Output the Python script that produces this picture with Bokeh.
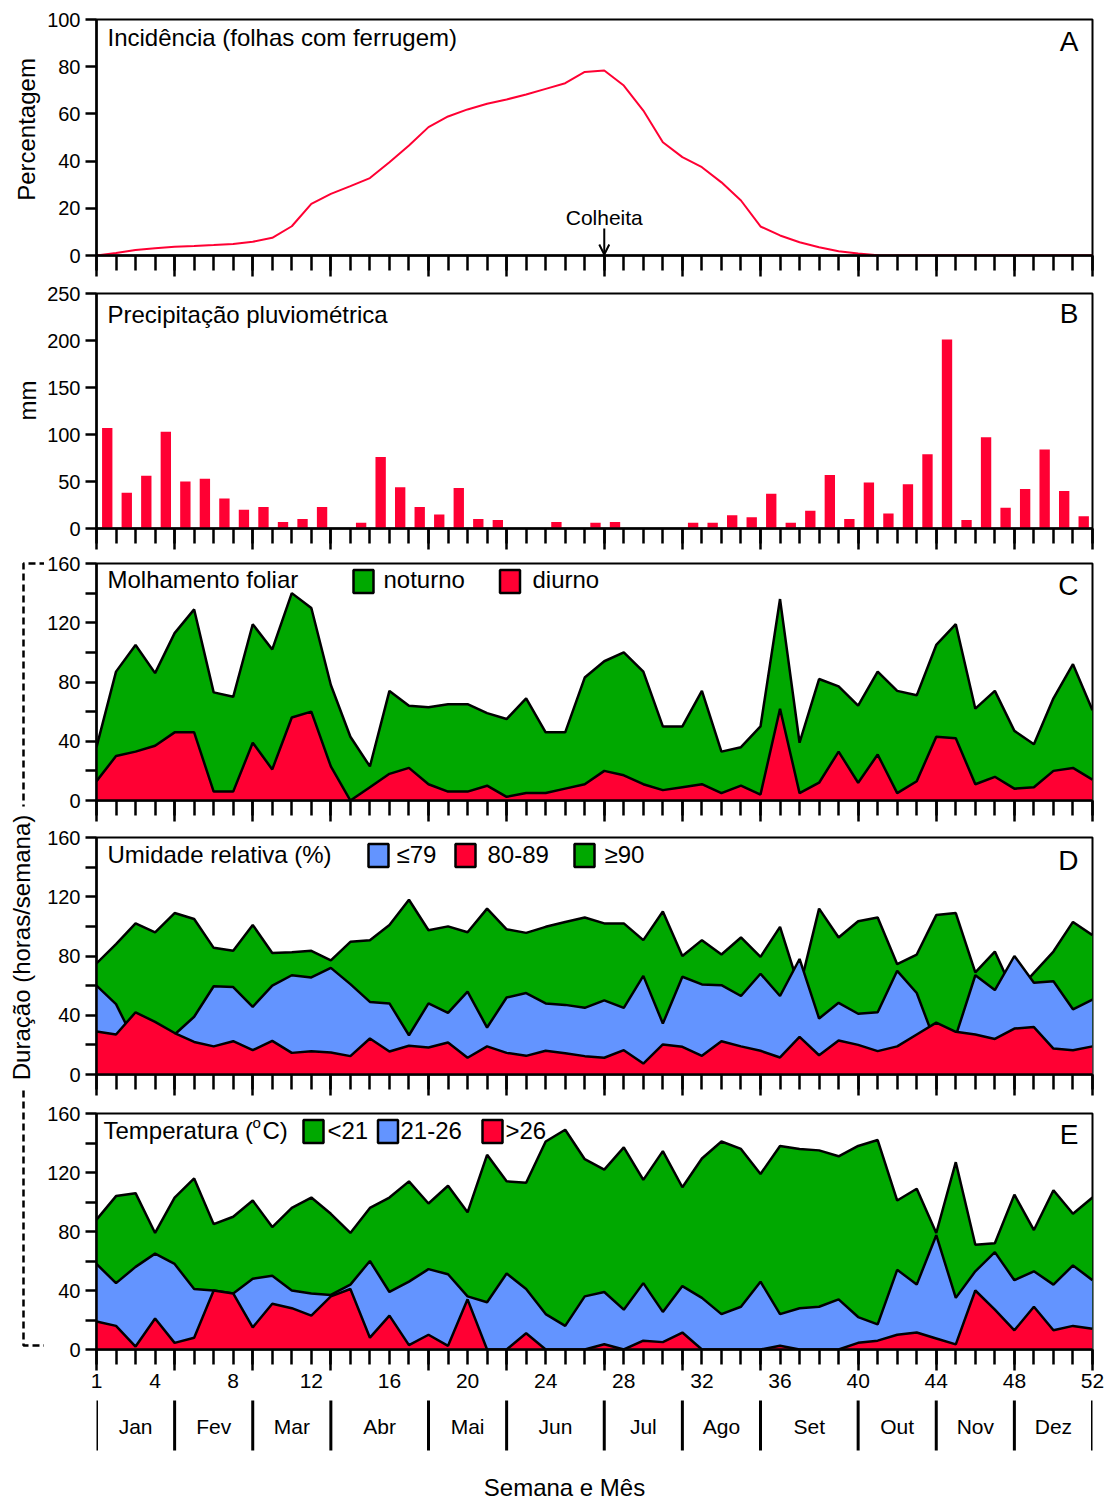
import numpy as np
from bokeh.plotting import figure
from bokeh.models import Range1d, FixedTicker, Arrow, OpenHead, LinearAxis
from bokeh.layouts import column, row
from bokeh.embed import file_html
from bokeh.resources import INLINE
from bokeh.core.properties import value

# ------------------------------------------------------------------ data
weeks = list(range(1, 53))
month_names = ["Jan", "Fev", "Mar", "Abr", "Mai", "Jun", "Jul", "Ago", "Set", "Out", "Nov", "Dez"]
month_bounds = [1, 5, 9, 13, 18, 22, 27, 31, 35, 40, 44, 48, 52]
week_tick_labels = [1, 4, 8, 12, 16, 20, 24, 28, 32, 36, 40, 44, 48, 52]
harvest_week = 27

# A - incidence (% leaves with rust)
incidencia = [0, 1.1, 2.3, 3.1, 3.7, 4.0, 4.4, 4.9, 5.8, 7.5,
              12.4, 21.9, 26.1, 29.4, 32.8, 39.5, 46.6, 54.4, 58.9, 61.9,
              64.3, 66.1, 68.2, 70.6, 73.0, 77.8, 78.4, 72.0, 61.4, 48.0,
              41.7, 37.4, 31.0, 23.3, 12.3, 8.5, 5.6, 3.5, 1.8, 0.8,
              0.1, 0, 0, 0, 0, 0, 0, 0, 0, 0, 0, 0]

# B - rainfall (mm), weeks 1..51
precip_weeks = list(range(1, 52))
precip = [107, 38, 56, 103, 50, 53, 32, 20, 23, 7, 10, 23, 0, 6, 76, 44, 23, 15, 43, 10,
          9, 0, 0, 7, 0, 6, 7, 0, 0, 0, 6, 6, 14, 12, 37, 6, 19, 57, 10, 49,
          16, 47, 79, 201, 9, 97, 22, 42, 84, 40, 13]

# C - leaf wetness (h/week)
molh_diurno = [13, 30, 33, 37, 46, 46, 6, 6, 39, 21, 56, 60, 23, 0, 9, 18, 22, 11, 6, 6,
               10, 2.5, 5, 5, 8, 11, 20, 17, 11, 7, 9, 11, 5, 10, 4, 62, 5, 12, 33, 12,
               31, 5, 13, 43, 42, 11, 16, 8, 9, 20, 22, 14]
molh_noturno = [23, 57, 72, 49, 67, 83, 67, 64, 80, 81, 84, 70, 55, 43, 14, 56, 42, 52, 59, 59,
                49, 52.5, 64, 41, 38, 72, 74, 83, 76, 43, 41, 63, 28, 26, 46, 74, 34, 70, 44, 52,
                56, 69, 58, 62, 77, 51, 58, 39, 29, 49, 70, 47]

# D - relative humidity classes (h/week)
ur_le79 = [60, 47.5, 21, 33, 27, 39, 59.6, 59, 45.7, 60, 67, 65.5, 72, 61, 49, 48, 26.5, 48, 41.6, 56,
           31.7, 52, 55, 48, 47, 45, 50, 45, 66.6, 34.4, 66, 60.8, 60.3, 53, 68, 53, 78, 37.8, 48.4, 41,
           42, 70, 55, 20, 26, 67, 57, 80, 62, 63, 44, 50.6]
ur_80_89 = [29, 27, 42, 35.5, 28, 22, 19, 22.5, 16.4, 22.7, 14.6, 15.7, 14.8, 12.4, 24.3, 15.5, 19.4, 18.2, 21.6, 11.3,
            19, 14.6, 12.6, 16, 14.4, 12.4, 11.3, 16.4, 7.4, 20.3, 18.7, 12.6, 22.5, 19, 16, 11.5, 25.4, 13, 23, 20,
            15.8, 19, 27, 35, 28.8, 27, 24, 31, 32, 17.5, 16.4, 19]
ur_ge90 = [75, 88, 102, 96, 109, 105, 85.5, 83.5, 101, 82, 82.6, 83.5, 77, 89.6, 90.7, 101, 118, 97.4, 100, 96,
           112, 98, 95.6, 99.7, 103, 106, 102, 102, 90.7, 110, 80, 90.7, 81, 92.5, 79.4, 99.7, 58, 112, 92.5, 103.5,
           106, 74.5, 81, 107.6, 109, 69, 83, 54, 68.6, 83, 103, 94]

# E - temperature classes (h/week)
temp_lt21 = [88, 104, 106, 79, 103, 116, 85, 90, 101, 83, 96, 103, 92, 79, 96, 103, 114, 99, 111, 93,
             132, 114, 113, 141, 149, 129, 122, 137, 115, 134.5, 110, 129.5, 141, 136, 119, 138, 136, 135, 131, 138,
             142, 101, 109, 79, 127, 71, 72, 105, 81, 108, 92, 103]
temp_21_26 = [58, 45, 56, 65, 58, 41, 40, 38, 48, 50, 40, 38, 37, 44, 60, 39, 46, 54.5, 51, 36,
              32, 51.5, 41, 24, 16, 36, 39, 27, 45, 25.5, 43, 35, 24, 29, 46, 24, 28, 29, 34, 22,
              17, 54, 44, 77.5, 35, 53, 66, 47, 53, 44, 57, 47]
temp_gt26 = [19, 16, 2, 21, 4.5, 8, 40, 38, 15, 31, 28, 23, 36, 41, 8, 23, 3, 10, 2.5, 34,
             0, 0, 11, 0, 0, 0, 3.6, 0, 6, 5, 11.5, 0, 0, 0, 0, 2.5, 0, 0, 0, 4.5,
             6, 10, 11.5, 7.5, 3.5, 40, 27, 13, 29, 13, 16, 14]

yticks_A = [0, 20, 40, 60, 80, 100]
yticks_B = [0, 50, 100, 150, 200, 250]
yticks_H = [0, 40, 80, 120, 160]
yminor_H = [20, 60, 100, 140]

# ------------------------------------------------------------------ style / layout
FONT = "Liberation Sans"
RED = "#FF0033"
GREEN = "#00A800"
BLUE = "#6394FF"

GUT_W = 44
LB, RB, FW = 52, 16, 996
FRAME_LEFT = GUT_W + LB
X0, X1 = 1, 52
BAR_OFFSET = 0.55
E_BOTTOM = 49

# (top border, frame height, bottom border, y max)
spec = {"A": (19, 236, 24, 100), "B": (14, 235, 23, 250), "C": (12, 237, 23, 160),
        "D": (14, 237, 24, 160), "E": (15, 236, E_BOTTOM, 160)}
frame_top = {}
_y = 0
for k in "ABCDE":
    t, h, b, _ = spec[k]
    frame_top[k] = _y + t
    _y += t + h + b
FOOT_TOP = _y
TOTAL_H = 1500
FOOT_H = TOTAL_H - FOOT_TOP


def wx(px):
    return X0 + (px - FRAME_LEFT) * (X1 - X0) / FW


def yconv(k):
    t, h, b, ymax = spec[k]
    top = frame_top[k]
    return lambda py: ymax * (top + h - py) / h


def make_panel(k, yticks, yminor):
    t, h, b, ymax = spec[k]
    p = figure(frame_width=FW, frame_height=h, x_range=Range1d(X0, X1), y_range=Range1d(0, ymax),
               output_backend="svg", toolbar_location=None,
               min_border_left=LB, min_border_right=RB, min_border_top=t, min_border_bottom=b)
    p.grid.visible = False
    p.outline_line_color = "black"
    p.outline_line_width = 2
    p.outline_line_alpha = 1
    xa = p.xaxis[0]
    xa.ticker = FixedTicker(ticks=month_bounds, minor_ticks=weeks)
    xa.major_tick_out = 21
    xa.major_tick_in = 0
    xa.minor_tick_out = 15
    xa.minor_tick_in = 0
    xa.major_tick_line_width = 2.5
    xa.minor_tick_line_width = 2.5
    xa.axis_line_width = 2.5
    xa.major_label_text_alpha = 0     # ticks only, no labels
    xa.major_label_standoff = 0
    ya = p.yaxis[0]
    ya.ticker = FixedTicker(ticks=yticks, minor_ticks=yminor)
    ya.major_tick_out = 11
    ya.major_tick_in = 0
    ya.minor_tick_out = 11
    ya.minor_tick_in = 0
    ya.major_tick_line_width = 2.5
    ya.minor_tick_line_width = 2.5
    ya.axis_line_width = 2.5
    ya.major_label_text_font = FONT
    ya.major_label_text_font_size = "20px"
    ya.major_label_text_color = "black"
    ya.major_label_standoff = 5
    return p


def add_text(p, px, py, txt, size="24px", align="left", font=FONT, k=None):
    yv = yconv(k)
    p.text(x=[wx(px)], y=[yv(py)], text=[txt], text_font=value(font), text_font_size=size,
           text_align=align, text_baseline="middle", text_color="black")


def add_swatch(p, k, px, py, color, w=20, h=23):
    yv = yconv(k)
    p.rect(x=[wx(px)], y=[yv(py)], width=w, height=h, width_units="screen", height_units="screen",
           fill_color=color, line_color="black", line_width=2.5)


def area(p, ys, color):
    p.varea(x=weeks, y1=0, y2=ys, fill_color=color)
    p.line(weeks, ys, line_color="black", line_width=2.5)


# ---- A
pA = make_panel("A", yticks_A, [])
pA.line(weeks, incidencia, line_color=RED, line_width=2)
add_text(pA, 107, 37, "Incidência (folhas com ferrugem)", k="A")
add_text(pA, 1078, 41, "A", size="28px", align="right", k="A")
yA = yconv("A")
pA.text(x=[harvest_week], y=[yA(217)], text=["Colheita"], text_font=value(FONT), text_font_size="21px",
        text_align="center", text_baseline="middle", text_color="black")
pA.add_layout(Arrow(end=OpenHead(size=10, line_width=2, line_color="black"), x_start=harvest_week,
                    y_start=yA(228), x_end=harvest_week, y_end=yA(254), line_width=2, line_color="black"))

# ---- B
pB = make_panel("B", yticks_B, [])
pB.vbar(x=[w + BAR_OFFSET for w in precip_weeks], top=precip, width=0.53, fill_color=RED, line_color=None)
add_text(pB, 107, 314, "Precipitação pluviométrica", k="B")
add_text(pB, 1078, 313, "B", size="28px", align="right", k="B")

# ---- C
pC = make_panel("C", yticks_H, yminor_H)
dn = np.array(molh_diurno, dtype=float)
total = dn + np.array(molh_noturno, dtype=float)
area(pC, total, GREEN)
area(pC, dn, RED)
add_text(pC, 107, 579, "Molhamento foliar", k="C")
add_swatch(pC, "C", 363, 581, GREEN)
add_text(pC, 383, 579, "noturno", k="C")
add_swatch(pC, "C", 509.5, 581, RED)
add_text(pC, 532, 579, "diurno", k="C")
add_text(pC, 1078, 585, "C", size="28px", align="right", k="C")

# ---- D
pD = make_panel("D", yticks_H, yminor_H)
area(pD, ur_ge90, GREEN)
area(pD, ur_le79, BLUE)
area(pD, ur_80_89, RED)
add_text(pD, 107, 854, "Umidade relativa (%)", k="D")
add_swatch(pD, "D", 378, 855, BLUE)
add_text(pD, 396, 854, "≤79", k="D")
add_swatch(pD, "D", 465, 855, RED)
add_text(pD, 487, 854, "80-89", k="D")
add_swatch(pD, "D", 584, 855, GREEN)
add_text(pD, 604, 854, "≥90", k="D")
add_text(pD, 1078, 860, "D", size="28px", align="right", k="D")

# ---- E
pE = make_panel("E", yticks_H, yminor_H)
area(pE, temp_lt21, GREEN)
area(pE, temp_21_26, BLUE)
area(pE, temp_gt26, RED)
add_text(pE, 103, 1130, "Temperatura (", k="E")
add_text(pE, 252, 1122, "o", size="15px", k="E")
add_text(pE, 262, 1130, "C)", k="E")
add_swatch(pE, "E", 313, 1131, GREEN)
add_text(pE, 327, 1130, "<21", k="E")
add_swatch(pE, "E", 387.5, 1131, BLUE)
add_text(pE, 400, 1130, "21-26", k="E")
add_swatch(pE, "E", 492, 1131, RED)
add_text(pE, 505, 1130, ">26", k="E")
add_text(pE, 1078, 1134, "E", size="28px", align="right", k="E")
# week numbers: a second axis below the tick axis of panel E
week_axis = LinearAxis(ticker=FixedTicker(ticks=week_tick_labels, minor_ticks=[]),
                       major_tick_out=0, major_tick_in=0, minor_tick_out=0, minor_tick_in=0,
                       major_tick_line_color=None, minor_tick_line_color=None, axis_line_color=None,
                       major_label_text_font=FONT, major_label_text_font_size="21px",
                       major_label_text_color="black", major_label_standoff=3)
pE.add_layout(week_axis, "below")

# ---- footer: month separators, month names, axis title
foot = figure(frame_width=FW, frame_height=FOOT_H, x_range=Range1d(X0, X1), y_range=Range1d(FOOT_H, 0),
              min_border_left=LB, min_border_right=RB, min_border_top=0, min_border_bottom=0,
              x_axis_type=None, y_axis_type=None, output_backend="svg", toolbar_location=None)
foot.outline_line_color = None
foot.grid.visible = False


def fy(py):
    return py - FOOT_TOP


foot.segment(x0=month_bounds, y0=fy(1400), x1=month_bounds, y1=fy(1450), line_color="black", line_width=3)
month_centers = [(a + b) / 2 for a, b in zip(month_bounds[:-1], month_bounds[1:])]
foot.text(x=month_centers, y=fy(1426), text=month_names, text_font=value(FONT), text_font_size="21px",
          text_align="center", text_baseline="middle", text_color="black")
foot.text(x=[wx(564)], y=[fy(1487)], text=["Semana e Mês"], text_font=value(FONT), text_font_size="24px",
          text_align="center", text_baseline="middle", text_color="black")

# ---- left gutter: axis titles and dashed bracket (pixel coordinates of the page)
gut = figure(width=GUT_W, height=TOTAL_H, x_range=Range1d(0, GUT_W), y_range=Range1d(TOTAL_H, 0),
             min_border_left=0, min_border_right=0, min_border_top=0, min_border_bottom=0,
             x_axis_type=None, y_axis_type=None, output_backend="svg", toolbar_location=None)
gut.outline_line_color = None
gut.grid.visible = False

gut.text(x=[26], y=[129], text=["Percentagem"], angle=np.pi / 2, text_font=value(FONT),
         text_font_size="24px", text_align="center", text_baseline="middle", text_color="black")
gut.text(x=[27], y=[400], text=["mm"], angle=np.pi / 2, text_font=value(FONT),
         text_font_size="24px", text_align="center", text_baseline="middle", text_color="black")
gut.text(x=[21], y=[947], text=["Duração (horas/semana)"], angle=np.pi / 2, text_font=value(FONT),
         text_font_size="24px", text_align="center", text_baseline="middle", text_color="black")
gut.line(x=[46, 23, 23], y=[frame_top["C"], frame_top["C"], 806],
         line_color="black", line_width=2.5, line_dash="7 4")
gut.line(x=[23, 23, 46], y=[1090, 1345, 1345],
         line_color="black", line_width=2.5, line_dash="7 4")

layout = row(gut, column(pA, pB, pC, pD, pE, foot))
open("out.html", "w").write(file_html(layout, INLINE))
